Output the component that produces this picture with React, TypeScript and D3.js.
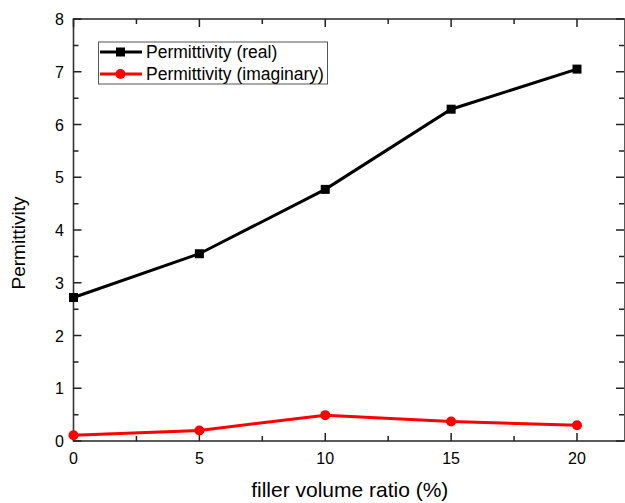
import React, { useEffect, useRef } from "react";
import * as d3 from "d3";

const fillerRatio = [0, 5, 10, 15, 20];
const realPerm = [2.72, 3.55, 4.77, 6.29, 7.05];
const imagPerm = [0.11, 0.2, 0.49, 0.37, 0.3];
const xTicks = [0, 5, 10, 15, 20];
const yTicks = [0, 1, 2, 3, 4, 5, 6, 7, 8];
const seriesNames = ["Permittivity (real)", "Permittivity (imaginary)"];

const App = () => {
  const ref = useRef<SVGSVGElement>(null);

  useEffect(() => {
    const svg = d3.select(ref.current);
    svg.selectAll("*").remove();

    const left = 73.5;
    const right = 625;
    const top = 19;
    const bottom = 441;
    const font = "Liberation Sans, Arial, sans-serif";
    const axisColor = "#333";

    const x = d3.scaleLinear().domain([0, 22]).range([left, left + (577 - left) * 22 / 20]);
    const y = d3.scaleLinear().domain([0, 8]).range([bottom, top]);

    // frame
    svg.append("rect")
      .attr("x", left).attr("y", top)
      .attr("width", right - left).attr("height", bottom - top)
      .attr("fill", "none").attr("stroke", axisColor).attr("stroke-width", 1.6);

    // ticks point inward on all four sides, minor ones in between
    const p = d3.path();
    d3.range(0, 22.01, 2.5).forEach((v) => {
      const len = v % 5 === 0 ? 8 : 5;
      p.moveTo(x(v), bottom); p.lineTo(x(v), bottom - len);
      p.moveTo(x(v), top); p.lineTo(x(v), top + len);
    });
    d3.range(0, 8.01, 0.5).forEach((v) => {
      const len = v % 1 === 0 ? 8 : 5;
      p.moveTo(left, y(v)); p.lineTo(left + len, y(v));
      p.moveTo(right - 1, y(v)); p.lineTo(right - 1 - len, y(v));
    });
    svg.append("path").attr("d", p.toString())
      .attr("fill", "none").attr("stroke", "#222").attr("stroke-width", 1.5);

    svg.append("g").selectAll("text").data(xTicks).join("text")
      .attr("x", (d) => x(d)).attr("y", 464)
      .attr("text-anchor", "middle")
      .attr("font-family", font).attr("font-size", 16)
      .text((d) => d);

    svg.append("g").selectAll("text").data(yTicks).join("text")
      .attr("x", 64).attr("y", (d) => y(d) + 6)
      .attr("text-anchor", "end")
      .attr("font-family", font).attr("font-size", 16)
      .text((d) => d);

    svg.append("text")
      .attr("x", (left + 626) / 2).attr("y", 497)
      .attr("text-anchor", "middle")
      .attr("font-family", font).attr("font-size", 21)
      .text("filler volume ratio (%)");

    svg.append("text")
      .attr("transform", `translate(25,243) rotate(-90)`)
      .attr("text-anchor", "middle")
      .attr("font-family", font).attr("font-size", 19)
      .text("Permittivity");

    const line = d3.line<number>().x((d, i) => x(fillerRatio[i])).y((d) => y(d));

    svg.append("path").datum(realPerm)
      .attr("d", line).attr("fill", "none").attr("stroke", "#000").attr("stroke-width", 3);
    svg.append("path").datum(imagPerm)
      .attr("d", line).attr("fill", "none").attr("stroke", "#f00").attr("stroke-width", 3);

    svg.append("g").selectAll("rect").data(realPerm).join("rect")
      .attr("x", (d, i) => x(fillerRatio[i]) - 4.5).attr("y", (d) => y(d) - 4.5)
      .attr("width", 9).attr("height", 9).attr("fill", "#000");
    svg.append("g").selectAll("circle").data(imagPerm).join("circle")
      .attr("cx", (d, i) => x(fillerRatio[i])).attr("cy", (d) => y(d))
      .attr("r", 5).attr("fill", "#f00");

    // legend
    const lg = svg.append("g");
    lg.append("rect")
      .attr("x", 98.5).attr("y", 42).attr("width", 229).attr("height", 42)
      .attr("fill", "#fff").attr("stroke", "#555").attr("stroke-width", 1);
    const colors = ["#000", "#f00"];
    seriesNames.forEach((name, i) => {
      const cy = 52 + i * 22;
      lg.append("line").attr("x1", 100).attr("x2", 142).attr("y1", cy).attr("y2", cy)
        .attr("stroke", colors[i]).attr("stroke-width", 3);
      if (i === 0) {
        lg.append("rect").attr("x", 116).attr("y", cy - 4.5).attr("width", 9).attr("height", 9).attr("fill", "#000");
      } else {
        lg.append("circle").attr("cx", 120.5).attr("cy", cy).attr("r", 5).attr("fill", "#f00");
      }
      lg.append("text").attr("x", 146).attr("y", cy + 6)
        .attr("font-family", font).attr("font-size", 17.5)
        .text(name);
    });
  }, []);

  return (
    <svg ref={ref} width={625} height={503}
      style={{ position: "absolute", left: 0, top: 0, background: "#fff" }} />
  );
};

export default App;
